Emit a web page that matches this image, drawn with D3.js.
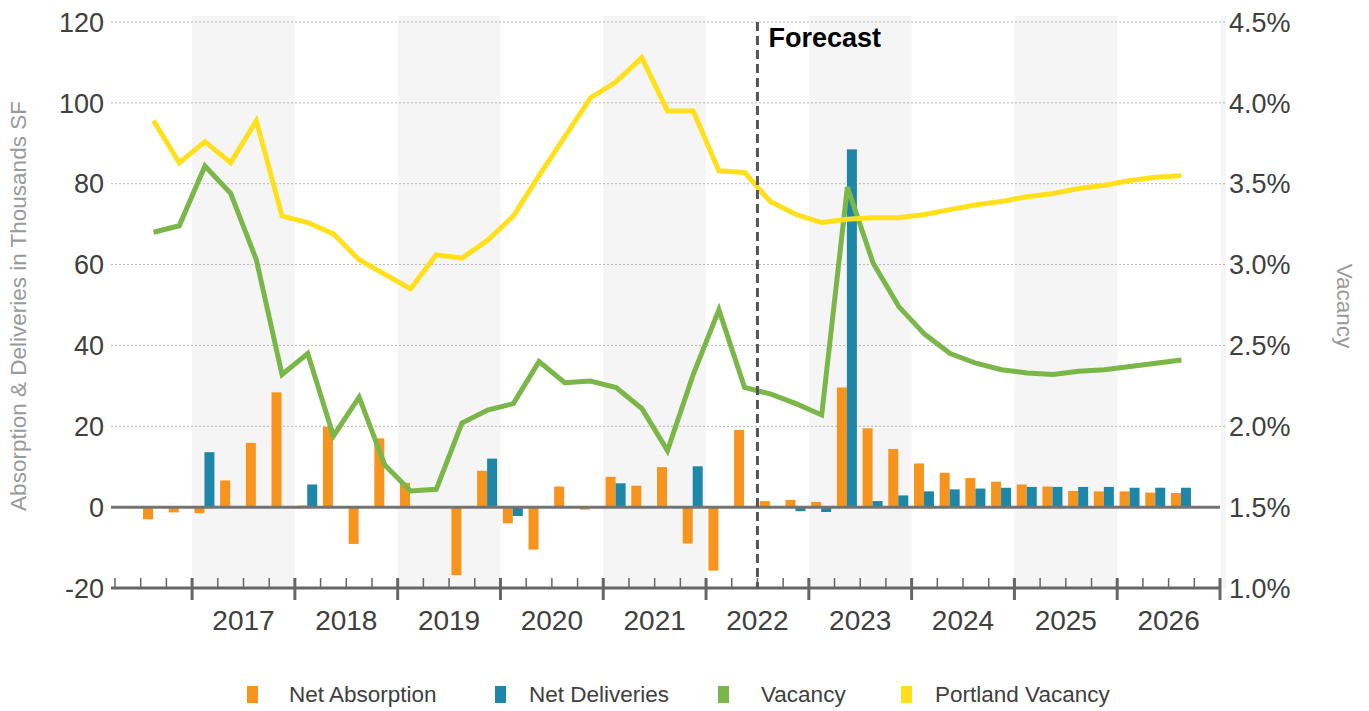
<!DOCTYPE html>
<html>
<head>
<meta charset="utf-8">
<script src="https://cdn.jsdelivr.net/npm/d3@7"></script>
<style>
  body { margin: 0; background: #fff; }
  svg { display: block; font-family: "Liberation Sans", Arial, sans-serif; }
</style>
</head>
<body>
<svg id="chart" width="1369" height="711"></svg>
<script>
// Quarterly series, 2016 Q3 through 2026 Q3
const quarters = [
  "2016 Q3","2016 Q4",
  "2017 Q1","2017 Q2","2017 Q3","2017 Q4",
  "2018 Q1","2018 Q2","2018 Q3","2018 Q4",
  "2019 Q1","2019 Q2","2019 Q3","2019 Q4",
  "2020 Q1","2020 Q2","2020 Q3","2020 Q4",
  "2021 Q1","2021 Q2","2021 Q3","2021 Q4",
  "2022 Q1","2022 Q2","2022 Q3","2022 Q4",
  "2023 Q1","2023 Q2","2023 Q3","2023 Q4",
  "2024 Q1","2024 Q2","2024 Q3","2024 Q4",
  "2025 Q1","2025 Q2","2025 Q3","2025 Q4",
  "2026 Q1","2026 Q2","2026 Q3"
];

// Thousands SF
const netAbsorption = [
  -3.0, -1.3,
  -1.5, 6.6, 15.9, 28.4,
  0.4, 19.9, -9.1, 17.0,
  6.0, 0.3, -16.8, 9.0,
  -4.0, -10.5, 5.1, -0.6,
  7.5, 5.3, 9.9, -9.0,
  -15.7, 19.1, 1.5, 1.8,
  1.3, 29.6, 19.5, 14.4,
  10.8, 8.5, 7.2, 6.3,
  5.6, 5.1, 4.0, 3.9,
  3.9, 3.6, 3.5
];

const netDeliveries = [
  0, 0,
  13.6, 0, 0, 0,
  5.6, 0, 0, 0,
  0, 0, 0, 12.0,
  -2.2, 0, 0, 0,
  5.9, 0, 0, 10.1,
  0, 0, 0, -1.0,
  -1.2, 88.5, 1.5, 2.9,
  3.9, 4.4, 4.6, 4.8,
  5.0, 5.0, 5.0, 5.0,
  4.8, 4.8, 4.8
];

// Percent
const vacancy = [
  3.20, 3.24,
  3.61, 3.44, 3.03, 2.32,
  2.45, 1.94, 2.18, 1.76,
  1.60, 1.61, 2.02, 2.10,
  2.14, 2.40, 2.27, 2.28,
  2.24, 2.11, 1.85, 2.32,
  2.72, 2.24, 2.20, 2.14,
  2.07, 3.48, 3.01, 2.74,
  2.57, 2.45, 2.39, 2.35,
  2.33, 2.32, 2.34, 2.35,
  2.37, 2.39, 2.41
];

const portlandVacancy = [
  3.89, 3.63,
  3.76, 3.63, 3.89, 3.30,
  3.26, 3.19, 3.03, 2.94,
  2.85, 3.06, 3.04, 3.15,
  3.30, 3.55, 3.79, 4.03,
  4.13, 4.28, 3.95, 3.95,
  3.58, 3.57, 3.39, 3.31,
  3.26, 3.28, 3.29, 3.29,
  3.31, 3.34, 3.37, 3.39,
  3.42, 3.44, 3.47, 3.49,
  3.52, 3.54, 3.55
];

const years = ["2017","2018","2019","2020","2021","2022","2023","2024","2025","2026"];
const leftTicks = [-20, 0, 20, 40, 60, 80, 100, 120];
const rightTicks = [1.0, 1.5, 2.0, 2.5, 3.0, 3.5, 4.0, 4.5];
const forecastStart = "2022 Q3";

const colors = {
  absorption: "#F7941D",
  deliveries: "#1E87A8",
  vacancy: "#7AB648",
  portland: "#FFE01B"
};

const svg = d3.select("#chart");

// Axis slots: one empty quarter on each side of the data
const slots = ["2016 Q2", ...quarters, "2026 Q4"];
const x = d3.scaleBand().domain(slots).range([115, 1220]).padding(0);
const bw = x.bandwidth();
const cx = q => x(q) + bw / 2;
const sub = d3.scaleBand().domain(["abs", "del"]).range([-10.5, 9.5]);

const yL = d3.scaleLinear().domain([-20, 120]).range([588, 22]);
const yR = d3.scaleLinear().domain([1.0, 4.5]).range([588, 22]);

const plotLeft = 111, plotRight = 1220;

// Alternating year shading
const bands = svg.append("g");
years.forEach((yr, i) => {
  if (i % 2 === 0) {
    bands.append("rect")
      .attr("x", x(yr + " Q1")).attr("y", 16)
      .attr("width", bw * 4).attr("height", yL(-20) - 16)
      .attr("fill", "#f5f5f5");
  }
});
bands.append("rect")
  .attr("x", plotRight + 1).attr("y", 16)
  .attr("width", 5).attr("height", yL(-20) - 16)
  .attr("fill", "#f5f5f5");

// Dotted grid
svg.append("g").selectAll("line")
  .data(leftTicks.filter(t => t > 0))
  .join("line")
  .attr("x1", plotLeft).attr("x2", plotRight + 6)
  .attr("y1", d => yL(d)).attr("y2", d => yL(d))
  .attr("stroke", "#b5b5b5").attr("stroke-width", 1)
  .attr("stroke-dasharray", "2,2");

// Bars
const bars = svg.append("g");
bars.selectAll("rect.abs")
  .data(quarters.map((q, i) => ({ q, v: netAbsorption[i] })))
  .join("rect")
  .attr("class", "abs")
  .attr("x", d => cx(d.q) + sub("abs"))
  .attr("width", sub.bandwidth())
  .attr("y", d => yL(Math.max(0, d.v)))
  .attr("height", d => Math.abs(yL(d.v) - yL(0)))
  .attr("fill", colors.absorption);
bars.selectAll("rect.del")
  .data(quarters.map((q, i) => ({ q, v: netDeliveries[i] })).filter(d => d.v !== 0))
  .join("rect")
  .attr("class", "del")
  .attr("x", d => cx(d.q) + sub("del"))
  .attr("width", sub.bandwidth())
  .attr("y", d => yL(Math.max(0, d.v)))
  .attr("height", d => Math.abs(yL(d.v) - yL(0)))
  .attr("fill", colors.deliveries);

// Zero baseline
svg.append("line")
  .attr("x1", plotLeft).attr("x2", plotRight)
  .attr("y1", yL(0)).attr("y2", yL(0))
  .attr("stroke", "#737373").attr("stroke-width", 3);

// Vacancy lines
const line = d3.line().x(d => cx(d.q)).y(d => yR(d.v));
svg.append("path")
  .datum(quarters.map((q, i) => ({ q, v: vacancy[i] })))
  .attr("d", line).attr("fill", "none")
  .attr("stroke", colors.vacancy).attr("stroke-width", 5);
svg.append("path")
  .datum(quarters.map((q, i) => ({ q, v: portlandVacancy[i] })))
  .attr("d", line).attr("fill", "none")
  .attr("stroke", colors.portland).attr("stroke-width", 5);

// Bottom axis with quarter and year ticks
const axisY = yL(-20);
const ax = svg.append("g");
ax.append("line")
  .attr("x1", plotLeft).attr("x2", plotRight)
  .attr("y1", axisY).attr("y2", axisY)
  .attr("stroke", "#666").attr("stroke-width", 3);
const yearStarts = new Set(years.map(y => y + " Q1"));
slots.forEach(q => {
  const xp = x(q);
  if (yearStarts.has(q)) {
    ax.append("line").attr("x1", xp).attr("x2", xp)
      .attr("y1", axisY - 10).attr("y2", axisY + 12)
      .attr("stroke", "#666").attr("stroke-width", 3);
  } else {
    ax.append("line").attr("x1", xp).attr("x2", xp)
      .attr("y1", axisY - 10).attr("y2", axisY)
      .attr("stroke", "#666").attr("stroke-width", 1.5);
  }
});
ax.append("line").attr("x1", plotRight).attr("x2", plotRight)
  .attr("y1", axisY - 10).attr("y2", axisY + 12)
  .attr("stroke", "#666").attr("stroke-width", 3);

ax.selectAll("text.year")
  .data(years)
  .join("text")
  .attr("class", "year")
  .attr("x", d => x(d + " Q1") + bw * 2)
  .attr("y", 630)
  .attr("text-anchor", "middle")
  .attr("font-size", 28)
  .attr("fill", "#404040")
  .text(d => d);

// Left axis labels
svg.append("g").selectAll("text")
  .data(leftTicks)
  .join("text")
  .attr("x", 104).attr("y", d => yL(d))
  .attr("dy", "0.36em")
  .attr("text-anchor", "end")
  .attr("font-size", 27)
  .attr("fill", "#404040")
  .text(d => String(d));

// Right axis labels
svg.append("g").selectAll("text")
  .data(rightTicks)
  .join("text")
  .attr("x", 1229).attr("y", d => yR(d))
  .attr("dy", "0.36em")
  .attr("text-anchor", "start")
  .attr("font-size", 27)
  .attr("fill", "#404040")
  .text(d => d.toFixed(1) + "%");

// Axis titles
svg.append("text")
  .attr("transform", "translate(26,306) rotate(-90)")
  .attr("text-anchor", "middle")
  .attr("font-size", 22.5)
  .attr("fill", "#9a9a9a")
  .text("Absorption & Deliveries in Thousands SF");
svg.append("text")
  .attr("transform", "translate(1337,306) rotate(90)")
  .attr("text-anchor", "middle")
  .attr("font-size", 22.5)
  .attr("fill", "#9a9a9a")
  .text("Vacancy");

// Forecast divider
const fx = x(forecastStart);
svg.append("line")
  .attr("x1", fx).attr("x2", fx)
  .attr("y1", 22).attr("y2", axisY)
  .attr("stroke", "#555").attr("stroke-width", 3)
  .attr("stroke-dasharray", "9,5");
svg.append("text")
  .attr("x", fx + 11).attr("y", 47)
  .attr("font-size", 27).attr("font-weight", "bold")
  .attr("fill", "#000")
  .text("Forecast");

// Legend
const legendItems = [
  { label: "Net Absorption", color: colors.absorption, x: 247, tx: 289 },
  { label: "Net Deliveries", color: colors.deliveries, x: 495, tx: 529 },
  { label: "Vacancy", color: colors.vacancy, x: 718, tx: 761 },
  { label: "Portland Vacancy", color: colors.portland, x: 901, tx: 935 }
];
const lg = svg.append("g");
legendItems.forEach(it => {
  lg.append("rect").attr("x", it.x).attr("y", 686)
    .attr("width", 11).attr("height", 17).attr("fill", it.color);
  lg.append("text").attr("x", it.tx).attr("y", 702)
    .attr("font-size", 22.5).attr("fill", "#404040")
    .text(it.label);
});
</script>
</body>
</html>
